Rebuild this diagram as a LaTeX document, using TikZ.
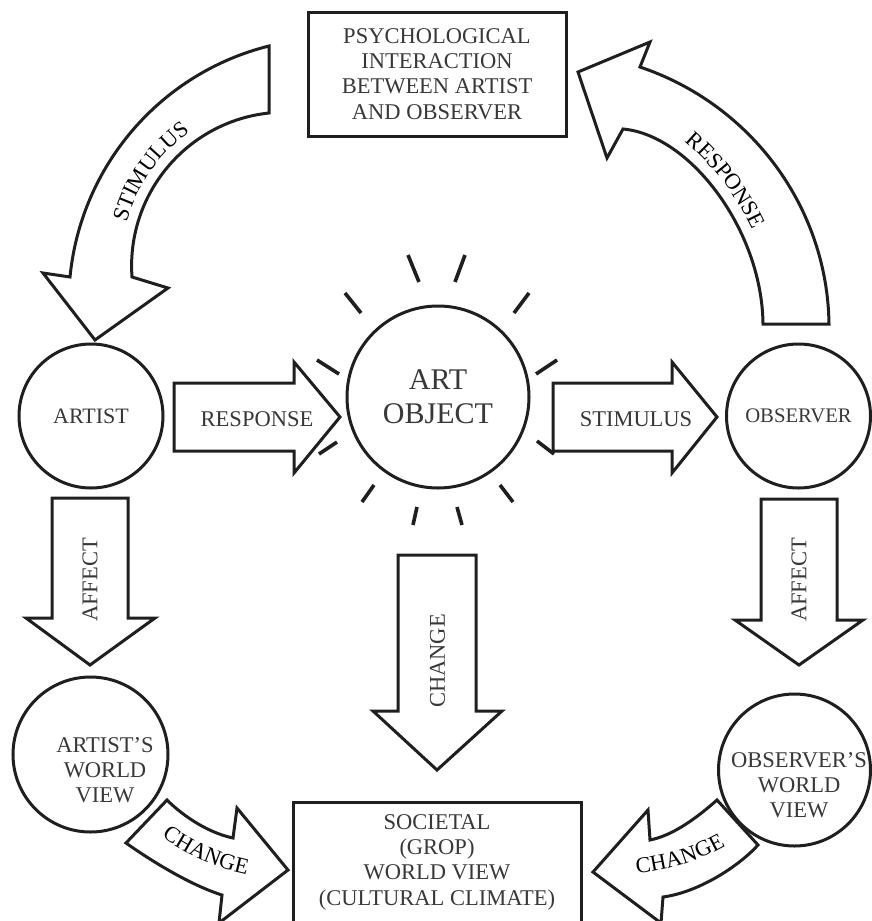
\documentclass[tikz,border=0pt]{standalone}
\usepackage{fontspec}
\setmainfont{Liberation Serif}
\usepackage{tikz}
\usetikzlibrary{calc}
\usetikzlibrary{decorations.text}
\definecolor{ink}{gray}{0.12}
\definecolor{txt}{gray}{0.22}
\tikzset{blob/.style={shape=circle, draw=ink, line width=3pt, inner sep=0pt, text=txt, align=center},
	box/.style={shape=rectangle, draw=ink, line width=3pt, inner sep=0pt, text=txt, align=center},
	lbl/.style={text=txt, inner sep=0pt, align=center},
	block/.style={draw=ink, line width=3pt, fill=white},
	ray/.style={draw=ink, line width=3.6pt},
	bend text/.style={color=txt, decorate, decoration={text along path, text align=center, text={|\fontsize{22.5}{27}\selectfont|#1}}}}
\begin{document}
\begin{tikzpicture}[x=1pt, y=-1pt, font=\fontsize{22.5}{25.3}\selectfont]
		\useasboundingbox (0,0) rectangle (872,921);
		\clip (0,0) rectangle (872,921);
		\node[box, minimum width=258, minimum height=124] (P) at (437,74) {PSYCHOLOGICAL\\INTERACTION\\BETWEEN ARTIST\\AND OBSERVER};
		\node[blob, minimum size=144, font=\fontsize{22}{25}\selectfont] (A) at (91,416) {ARTIST};
		\node[blob, minimum size=182, font=\fontsize{30}{34}\selectfont] (AO) at (438,397) {ART\\OBJECT};
		\node[blob, minimum size=144, font=\fontsize{20.7}{24}\selectfont] (O) at (798.5,416) {OBSERVER};
		\node[blob, minimum size=155] (AW) at (90.5,754.5) {};
		\node[lbl] (AWt) at (105,770) {ARTIST'S\\WORLD\\VIEW};
		\node[blob, minimum size=152] (OW) at (794.5,770) {};
		\node[lbl] (OWt) at (799,785) {OBSERVER'S\\WORLD\\VIEW};
		\node[box, minimum width=288, minimum height=130, anchor=north] (S) at (437,800.5) {};
		\node[lbl] (St) at (437,862) {SOCIETAL\\(GROP)\\WORLD VIEW\\(CULTURAL CLIMATE)};
		\draw[block] (174,383) -- (294,383) -- (294,362) -- (340,417) -- (294,473) -- (294,451) -- (174,451) -- cycle;
		\node[lbl] (Rl) at (257,419) {RESPONSE};
		\draw[block] (553,383) -- (672,383) -- (672,362) -- (717,417) -- (672,473) -- (672,451) -- (553,451) -- cycle;
		\node[lbl] (Sl) at (636,419) {STIMULUS};
		\draw[block] (52,498) -- (128,498) -- (128,618) -- (155,618) -- (90,665) -- (26,618) -- (52,618) -- cycle;
		\node[lbl, rotate=90] (Al) at (90,580) {AFFECT};
		\draw[block] (761,499) -- (837,499) -- (837,620) -- (863,620) -- (799,665) -- (735,620) -- (761,620) -- cycle;
		\node[lbl, rotate=90] (Ol) at (799,580) {AFFECT};
		\draw[block] (398,555) -- (476,555) -- (476,711) -- (502,711) -- (437,770) -- (373,711) -- (398,711) -- cycle;
		\node[lbl, rotate=90] (Cl) at (437.5,661) {CHANGE};
		\draw[block] (269,46) .. controls (160.5,73) and (80.9,165.7) .. (70,277) -- (43,273) -- (95,340) -- (168,288) -- (132,277) .. controls (126.1,194.4) and (186.6,121.8) .. (269,113) -- cycle;
		\path[bend text=STIMULUS] ($(285,266)+(-190:164)$) arc[start angle=-190, end angle=-100, radius=164];
		\draw[block] (829,324) .. controls (827.4,207) and (750.9,104.3) .. (640,67) -- (650,42) -- (578,72) -- (607,158) -- (623,129) .. controls (690,135) and (762,230) .. (763,324) -- cycle;
		\path[bend text=RESPONSE] ($(519,339)+(-80:258)$) arc[start angle=-80, end angle=5, radius=258];
		\draw[block] (167,800) .. controls (180,813) and (205,832) .. (233,838) -- (237,808) -- (288,870) -- (219,923) -- (222,895) .. controls (190,885) and (150,860) .. (126,843) -- cycle;
		\path[bend text=CHANGE] ($(292,658)+(-216:221)$) arc[start angle=-216, end angle=-276, radius=221];
		\draw[block] (717,800) .. controls (700,815) and (675,835) .. (650,840) -- (648,810) -- (593,872) -- (661,923) -- (663,897) .. controls (700,892) and (740,865) .. (758,845) -- cycle;
		\path[bend text=CHANGE] ($(618,653)+(-257:221)$) arc[start angle=-257, end angle=-317, radius=221];
		\foreach \xa/\ya/\xb/\yb in {-30/-142/-19/-115, 27/-142/17/-115, -93/-104/-77/-84, 91/-104/76/-84, -121/-37/-99/-23, 119/-37/98/-23, -119/57/-101/45, 116/57/99/44, -76/105/-64/88, 75/105/62/88, -25/128/-21/110, 24/128/19/110}
			\draw[ray] ($(AO)+(\xa,\ya)$) -- ($(AO)+(\xb,\yb)$);
	\end{tikzpicture}
\end{document}
